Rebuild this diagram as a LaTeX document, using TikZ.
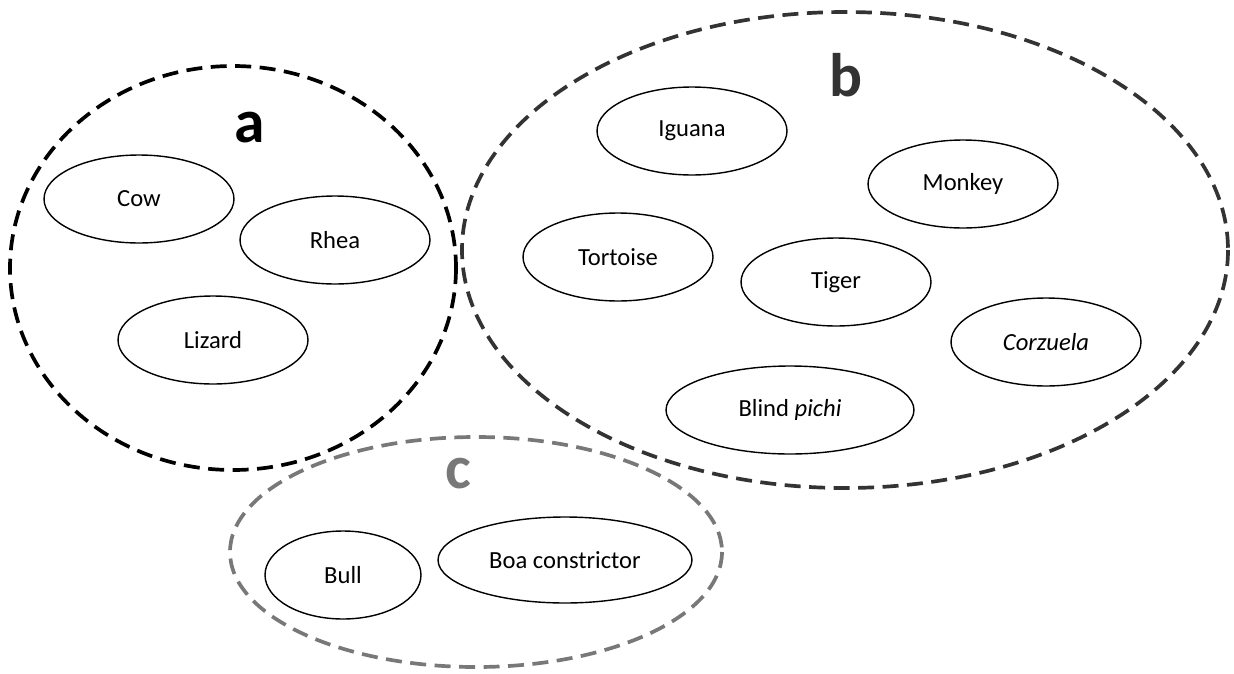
\documentclass[tikz,border=0pt]{standalone}
\usepackage{fontspec}
\setmainfont{Carlito}
\usepackage{tikz}
\usetikzlibrary{shapes.geometric}
\tikzset{animal/.style = {draw, ellipse, line width = 0.8pt, inner sep = 0,
    minimum width = 3.8cm, minimum height = 1.76cm, font = \fontsize{14}{16}\selectfont}}
\tikzset{group/.style = {line width = 2.1pt, dash pattern = on 0.32cm off 0.17cm}}
\tikzset{grouplabel/.style = {font = \fontsize{35}{38}\selectfont\bfseries}}
\definecolor{bgray}{rgb}{0.2, 0.2, 0.2}
\definecolor{cgray}{rgb}{0.47, 0.47, 0.47}
\begin{document}
\begin{tikzpicture}[x=0.02cm, y=-0.02cm]
      \useasboundingbox (0, 0) rectangle (1234, 673);

      \draw [group, black] (233, 268) ellipse [x radius = 223, y radius = 202];
      \draw [group, bgray] (845, 250) ellipse [x radius = 383, y radius = 238];
      \draw [group, cgray] (476, 552) ellipse [x radius = 246, y radius = 115];

      \node (la) [grouplabel] at (250, 128) {a};
      \node (lb) [grouplabel, bgray] at (846, 75) {b};
      \node (lc) [grouplabel, cgray] at (458, 474) {c};

      \node (cow) [animal] at (139, 199) {Cow};
      \node (rhea) [animal] at (335, 240) {Rhea};
      \node (lizard) [animal] at (213, 340) {Lizard};

      \node (iguana) [animal] at (692, 131) {Iguana};
      \node (monkey) [animal] at (963, 184) {Monkey};
      \node (tortoise) [animal] at (618, 257) {Tortoise};
      \node (tiger) [animal] at (836, 282) {Tiger};
      \node (corzuela) [animal] at (1046, 342) {\textit{Corzuela}};
      \node (pichi) [animal, minimum width = 4.96cm] at (790, 410) {Blind \textit{pichi}};

      \node (bull) [animal, minimum width = 3.12cm] at (343, 575) {Bull};
      \node (boa) [animal, minimum width = 5.08cm, minimum height = 1.72cm] at (565, 560) {Boa constrictor};
    \end{tikzpicture}
\end{document}
